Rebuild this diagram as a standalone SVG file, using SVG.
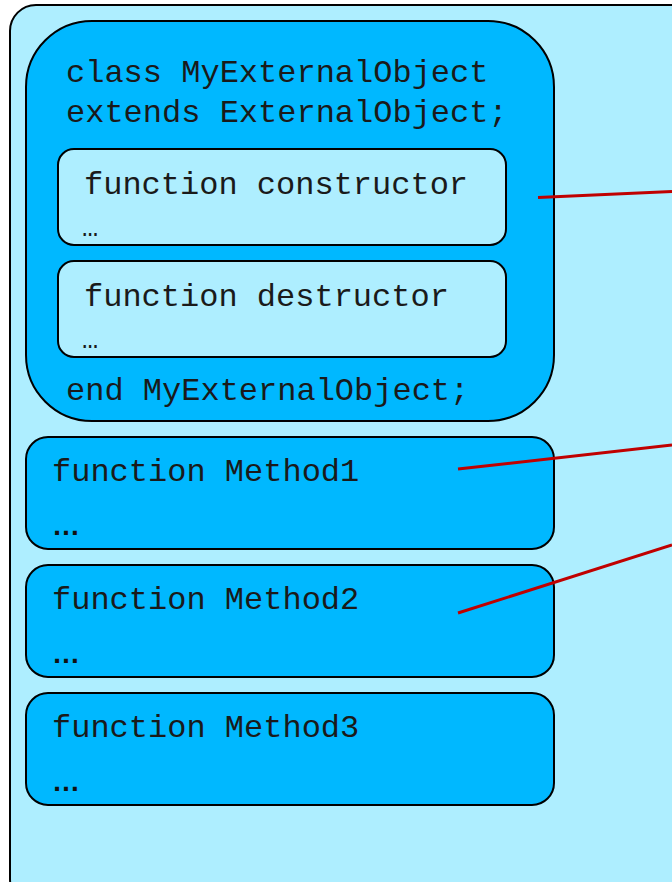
<svg xmlns="http://www.w3.org/2000/svg" width="672" height="882" viewBox="0 0 672 882">
  <style>
    .frame { fill: #AEEEFF; stroke: #000; stroke-width: 2; }
    .block { fill: #00B8FF; stroke: #000; stroke-width: 2; }
    .inner { fill: #AEEEFF; stroke: #000; stroke-width: 2; }
    .code { font-family: "Liberation Mono", "Courier New", monospace; font-size: 32px; fill: #1a1a1a; }
    .dots { font-family: "Liberation Mono", monospace; font-size: 27px; fill: #1a1a1a; }
    .dotsb { font-family: "Liberation Sans", Arial, sans-serif; font-size: 28px; font-weight: bold; fill: #111; }
    .link { stroke: #C00000; stroke-width: 3; fill: none; }
  </style>

  <!-- outer container -->
  <rect class="frame" x="10" y="5" width="700" height="900" rx="26"/>

  <g id="class-block">
    <rect class="block" x="26" y="21" width="528" height="400" rx="66"/>
    <text class="code" x="66" y="82">class MyExternalObject</text>
    <text class="code" x="66" y="122">extends ExternalObject;</text>
    <text class="code" x="66" y="400">end MyExternalObject;</text>
  </g>

  <g id="constructor">
    <rect class="inner" x="58" y="149" width="448" height="96" rx="16"/>
    <text class="code" x="84" y="194">function constructor</text>
    <text class="dots" x="82" y="236">…</text>
  </g>

  <g id="destructor">
    <rect class="inner" x="58" y="261" width="448" height="96" rx="16"/>
    <text class="code" x="84" y="306">function destructor</text>
    <text class="dots" x="82" y="348">…</text>
  </g>

  <g id="method1">
    <rect class="block" x="26" y="437" width="528" height="112" rx="22"/>
    <text class="code" x="52" y="481">function Method1</text>
    <text class="dotsb" x="52" y="535">…</text>
  </g>

  <g id="method2">
    <rect class="block" x="26" y="565" width="528" height="112" rx="22"/>
    <text class="code" x="52" y="609">function Method2</text>
    <text class="dotsb" x="52" y="663">…</text>
  </g>

  <g id="method3">
    <rect class="block" x="26" y="693" width="528" height="112" rx="22"/>
    <text class="code" x="52" y="737">function Method3</text>
    <text class="dotsb" x="52" y="791">…</text>
  </g>

  <g id="connectors">
    <line class="link" x1="538" y1="197.5" x2="672" y2="191.5"/>
    <line class="link" x1="458" y1="469" x2="672" y2="445"/>
    <line class="link" x1="458" y1="613" x2="672" y2="545"/>
  </g>
</svg>
